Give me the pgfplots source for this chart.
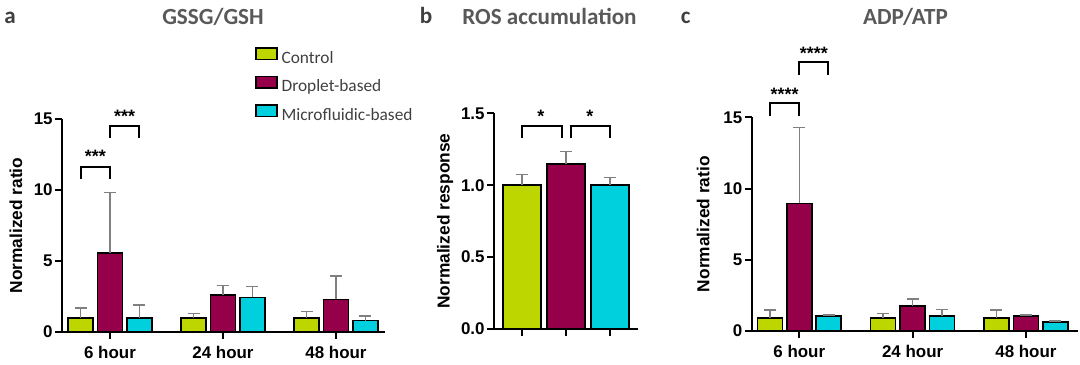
\documentclass[border=0pt]{standalone}
\usepackage{pgfplots}
\pgfplotsset{compat=1.18}
\usepackage{fontspec}
\setmainfont{Liberation Sans}
\newfontfamily\calibri{Carlito}
\definecolor{cLime}{RGB}{190,214,0}
\definecolor{cMaroon}{RGB}{150,0,75}
\definecolor{cCyan}{RGB}{0,208,222}
\definecolor{errgray}{RGB}{128,128,128}
\definecolor{titlegray}{RGB}{89,89,89}
\definecolor{legendgray}{RGB}{64,64,64}

\tikzset{
  brk/.style={line width=1bp, black},
  stars/.style={anchor=north, inner sep=0pt, font=\bfseries\fontsize{9}{10}\selectfont},
}
\pgfplotsset{
  panel/.style={
    scale only axis, anchor=south west,
    axis lines*=left, axis line style={line width=1bp, black},
    tick align=outside, major tick length=3.5bp,
    every tick/.style={line width=1bp, black},
    ymin=0, enlargelimits=false, clip=false,
    ybar,
    ticklabel style={font=\bfseries\fontsize{8.5}{10}\selectfont},
    yticklabel style={inner sep=1bp},
    /pgf/number format/assume math mode=true,
    label style={font=\bfseries\fontsize{8.7}{10}\selectfont},
    xtick={0,1,2},
    legend image code/.code={\draw[##1,line width=0.8bp] (0bp,0bp) rectangle (10.5bp,5.6bp);},
  },
  eb/.style={draw=black, line width=0.8bp,
    error bars/y dir=plus, error bars/y explicit,
    error bars/error bar style={line width=0.75bp, errgray},
    error bars/error mark options={rotate=90, line width=0.75bp, errgray, mark size=3bp}},
}

\begin{document}
\begin{tikzpicture}
\path[use as bounding box] (0,0) rectangle (540bp,182.5bp);

% titles
\node[anchor=base, font=\calibri\bfseries\fontsize{11.6}{13}\selectfont, text=legendgray] at (5bp,170.5bp) {a};
\node[anchor=base, font=\calibri\bfseries\fontsize{11.6}{13}\selectfont, text=legendgray] at (213bp,170.5bp) {b};
\node[anchor=base, font=\calibri\bfseries\fontsize{11.6}{13}\selectfont, text=legendgray] at (342.85bp,170.5bp) {c};
\node[anchor=base, font=\calibri\bfseries\fontsize{11.6}{13}\selectfont, text=titlegray] at (106.5bp,170bp) {GSSG/GSH};
\node[anchor=base, font=\calibri\bfseries\fontsize{11.6}{13}\selectfont, text=titlegray] at (274.75bp,170bp) {ROS accumulation};
\node[anchor=base, font=\calibri\bfseries\fontsize{11.6}{13}\selectfont, text=titlegray] at (452.75bp,170bp) {ADP/ATP};

% ---------- panel a ----------
\begin{axis}[panel, at={(31bp,16.5bp)}, width=161.5bp, height=106.5bp,
  xmin=-0.425, xmax=2.434, ymax=15, ytick={0,5,10,15},
  bar width=0.221,
  xticklabels={6 hour,24 hour,48 hour},
  ylabel={Normalized ratio},
  ylabel style={at={(axis description cs:-0.1424,0.5)}, anchor=center},
  legend style={draw=none, fill=none, inner sep=0pt, outer sep=0pt,
    at={(axis description cs:0.5975,1.3366)}, anchor=north west,
    row sep=4.25bp, column sep=2bp,
    nodes={inner sep=0pt, text height=6bp, text depth=2bp,
      font=\calibri\fontsize{8.7}{10}\selectfont, text=legendgray}},
  legend cell align=left]
\addplot[eb, fill=cLime, bar shift=-0.26] coordinates {(0,1.0) +- (0,0.68) (1,1.0) +- (0,0.30) (2,1.0) +- (0,0.43)};
\addlegendentry{Control}
\addplot[eb, fill=cMaroon, bar shift=0] coordinates {(0,5.58) +- (0,4.25) (1,2.6) +- (0,0.66) (2,2.3) +- (0,1.64)};
\addlegendentry{Droplet-based}
\addplot[eb, fill=cCyan, bar shift=0.26] coordinates {(0,1.0) +- (0,0.9) (1,2.44) +- (0,0.76) (2,0.8) +- (0,0.33)};
\addlegendentry{Microfluidic-based}
\draw[brk] (axis cs:-0.26,10.77) -- (axis cs:-0.26,11.64) -- (axis cs:0,11.64) -- (axis cs:0,10.77);
\draw[brk] (axis cs:0,13.68) -- (axis cs:0,14.53) -- (axis cs:0.26,14.53) -- (axis cs:0.26,13.68);
\node[stars] at (axis cs:-0.13,12.82) {***};
\node[stars] at (axis cs:0.13,15.63) {***};
\end{axis}

% ---------- panel b ----------
\begin{axis}[panel, at={(247bp,18bp)}, width=72bp, height=107.85bp,
  xmin=-0.636, xmax=2.636, ymax=1.5, ytick={0,0.5,1,1.5},
  yticklabel style={/pgf/number format/.cd, fixed, fixed zerofill, precision=1},
  bar width=0.864,
  xticklabels={,,},
  ylabel={Normalized response},
  ylabel style={at={(axis description cs:-0.340,0.5)}, anchor=center}]
\addplot[eb, fill=cLime, bar shift=0] coordinates {(0,1.0) +- (0,0.076)};
\addplot[eb, fill=cMaroon, bar shift=0] coordinates {(1,1.147) +- (0,0.086)};
\addplot[eb, fill=cCyan, bar shift=0] coordinates {(2,1.0) +- (0,0.055)};
\draw[brk] (axis cs:0,1.326) -- (axis cs:0,1.41) -- (axis cs:0.909,1.41) -- (axis cs:0.909,1.326);
\draw[brk] (axis cs:1.114,1.326) -- (axis cs:1.114,1.41) -- (axis cs:2,1.41) -- (axis cs:2,1.326);
\node[stars] at (axis cs:0.43,1.523) {*};
\node[stars] at (axis cs:1.54,1.523) {*};
\end{axis}

% ---------- panel c ----------
\begin{axis}[panel, at={(375.85bp,17bp)}, width=163bp, height=106.85bp,
  xmin=-0.42, xmax=2.457, ymax=15, ytick={0,5,10,15},
  bar width=0.221,
  xticklabels={6 hour,24 hour,48 hour},
  ylabel={Normalized ratio},
  ylabel style={at={(axis description cs:-0.1485,0.5)}, anchor=center}]
\addplot[eb, fill=cLime, bar shift=-0.26] coordinates {(0,0.9) +- (0,0.57) (1,0.9) +- (0,0.34) (2,0.9) +- (0,0.57)};
\addplot[eb, fill=cMaroon, bar shift=0] coordinates {(0,8.96) +- (0,5.31) (1,1.75) +- (0,0.5) (2,1.07) +- (0,0.05)};
\addplot[eb, fill=cCyan, bar shift=0.26] coordinates {(0,1.07) +- (0,0.05) (1,1.07) +- (0,0.45) (2,0.65) +- (0,0.05)};
\draw[brk] (axis cs:-0.26,15.09) -- (axis cs:-0.26,15.98) -- (axis cs:0,15.98) -- (axis cs:0,15.09);
\draw[brk] (axis cs:0,17.96) -- (axis cs:0,18.9) -- (axis cs:0.256,18.9) -- (axis cs:0.256,17.96);
\node[stars] at (axis cs:-0.13,17.1) {****};
\node[stars] at (axis cs:0.128,19.95) {****};
\end{axis}
\end{tikzpicture}
\end{document}
